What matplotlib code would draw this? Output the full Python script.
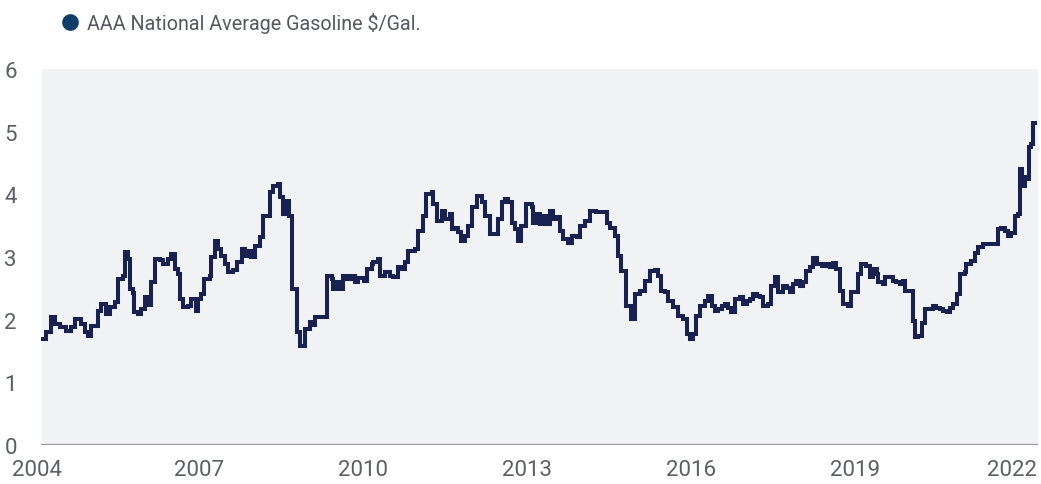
import matplotlib
matplotlib.use("Agg")
import matplotlib.pyplot as plt
from matplotlib.lines import Line2D
from matplotlib.transforms import ScaledTranslation

# ---- data (decimal year, $/gal) ----
dates = [
    2004.15, 2004.21, 2004.30, 2004.36, 2004.45, 2004.57, 2004.66, 2004.73, 2004.85, 2004.91,
    2004.97, 2005.03, 2005.15, 2005.21, 2005.30, 2005.37, 2005.46, 2005.52, 2005.61, 2005.64,
    2005.70, 2005.73, 2005.79, 2005.82, 2005.88, 2005.94, 2006.01, 2006.07, 2006.13, 2006.19,
    2006.28, 2006.34, 2006.43, 2006.49, 2006.56, 2006.62, 2006.65, 2006.71, 2006.80, 2006.86,
    2006.95, 2006.98, 2007.04, 2007.10, 2007.20, 2007.22, 2007.29, 2007.35, 2007.41, 2007.48,
    2007.54, 2007.63, 2007.69, 2007.78, 2007.84, 2007.90, 2007.96, 2008.02, 2008.12, 2008.18,
    2008.30, 2008.36, 2008.45, 2008.48, 2008.54, 2008.60, 2008.65, 2008.70, 2008.79, 2008.85,
    2008.94, 2009.03, 2009.09, 2009.12, 2009.34, 2009.43, 2009.46, 2009.52, 2009.58, 2009.64,
    2009.70, 2009.79, 2009.85, 2009.91, 2010.01, 2010.07, 2010.16, 2010.19, 2010.28, 2010.31,
    2010.40, 2010.49, 2010.55, 2010.65, 2010.71, 2010.77, 2010.83, 2010.95, 2011.01, 2011.10,
    2011.16, 2011.26, 2011.29, 2011.35, 2011.44, 2011.50, 2011.59, 2011.62, 2011.68, 2011.74,
    2011.80, 2011.87, 2011.93, 2011.99, 2012.08, 2012.17, 2012.23, 2012.32, 2012.47, 2012.54,
    2012.60, 2012.66, 2012.72, 2012.78, 2012.84, 2012.90, 2012.99, 2013.09, 2013.11, 2013.18,
    2013.24, 2013.30, 2013.36, 2013.42, 2013.48, 2013.54, 2013.60, 2013.66, 2013.75, 2013.82,
    2013.91, 2013.97, 2014.06, 2014.15, 2014.27, 2014.46, 2014.52, 2014.61, 2014.67, 2014.73,
    2014.82, 2014.91, 2014.97, 2015.07, 2015.16, 2015.25, 2015.34, 2015.40, 2015.46, 2015.52,
    2015.58, 2015.68, 2015.77, 2015.86, 2015.92, 2015.98, 2016.04, 2016.10, 2016.16, 2016.26,
    2016.32, 2016.38, 2016.44, 2016.50, 2016.56, 2016.62, 2016.68, 2016.74, 2016.80, 2016.90,
    2016.96, 2017.02, 2017.08, 2017.14, 2017.20, 2017.26, 2017.32, 2017.41, 2017.47, 2017.54,
    2017.60, 2017.69, 2017.75, 2017.81, 2017.87, 2017.93, 2017.99, 2018.05, 2018.11, 2018.18,
    2018.24, 2018.30, 2018.39, 2018.48, 2018.54, 2018.60, 2018.66, 2018.72, 2018.78, 2018.87,
    2018.93, 2019.05, 2019.12, 2019.21, 2019.24, 2019.27, 2019.33, 2019.40, 2019.42, 2019.52,
    2019.55, 2019.64, 2019.70, 2019.76, 2019.82, 2019.88, 2019.91, 2020.07, 2020.10, 2020.16,
    2020.22, 2020.28, 2020.43, 2020.49, 2020.55, 2020.61, 2020.68, 2020.74, 2020.80, 2020.86,
    2020.92, 2021.01, 2021.04, 2021.13, 2021.19, 2021.25, 2021.34, 2021.62, 2021.68, 2021.74,
    2021.80, 2021.86, 2021.93, 2021.99, 2022.02, 2022.05, 2022.11, 2022.16, 2022.19, 2022.23,
    2022.26, 2022.29,
]
prices = [
    1.69, 1.80, 2.04, 1.93, 1.88, 1.82, 1.88, 2.01, 1.93, 1.80,
    1.74, 1.90, 2.14, 2.25, 2.09, 2.20, 2.28, 2.65, 2.70, 3.08,
    2.97, 2.49, 2.43, 2.12, 2.09, 2.17, 2.36, 2.23, 2.60, 2.97,
    2.95, 2.89, 2.97, 3.05, 2.81, 2.73, 2.33, 2.20, 2.22, 2.33,
    2.14, 2.33, 2.41, 2.65, 2.70, 3.00, 3.26, 3.12, 3.02, 2.89,
    2.76, 2.79, 2.92, 3.12, 3.02, 3.10, 3.00, 3.18, 3.32, 3.66,
    4.03, 4.14, 4.16, 3.96, 3.69, 3.89, 3.66, 2.49, 1.80, 1.58,
    1.85, 1.96, 1.91, 2.04, 2.70, 2.65, 2.49, 2.60, 2.49, 2.70,
    2.65, 2.70, 2.60, 2.67, 2.62, 2.81, 2.89, 2.92, 2.97, 2.70,
    2.76, 2.70, 2.68, 2.84, 2.81, 2.92, 3.10, 3.12, 3.41, 3.66,
    4.00, 4.03, 3.85, 3.58, 3.74, 3.60, 3.69, 3.44, 3.47, 3.40,
    3.26, 3.34, 3.50, 3.79, 3.98, 3.87, 3.66, 3.37, 3.60, 3.87,
    3.92, 3.87, 3.55, 3.44, 3.26, 3.50, 3.85, 3.79, 3.55, 3.69,
    3.53, 3.66, 3.53, 3.74, 3.61, 3.64, 3.42, 3.29, 3.23, 3.34,
    3.32, 3.50, 3.58, 3.74, 3.72, 3.55, 3.47, 3.34, 3.02, 2.78,
    2.22, 2.01, 2.41, 2.46, 2.62, 2.78, 2.80, 2.70, 2.46, 2.44,
    2.30, 2.20, 2.06, 2.01, 1.77, 1.69, 1.77, 2.06, 2.22, 2.30,
    2.38, 2.22, 2.14, 2.17, 2.22, 2.25, 2.19, 2.12, 2.33, 2.36,
    2.25, 2.30, 2.33, 2.41, 2.38, 2.36, 2.22, 2.25, 2.54, 2.68,
    2.44, 2.54, 2.51, 2.44, 2.57, 2.62, 2.54, 2.60, 2.78, 2.84,
    2.99, 2.89, 2.86, 2.89, 2.84, 2.91, 2.81, 2.46, 2.25, 2.22,
    2.44, 2.73, 2.89, 2.86, 2.86, 2.68, 2.81, 2.73, 2.60, 2.57,
    2.68, 2.68, 2.62, 2.60, 2.57, 2.62, 2.46, 1.98, 1.72, 1.74,
    1.95, 2.17, 2.22, 2.19, 2.17, 2.14, 2.12, 2.19, 2.25, 2.41,
    2.73, 2.76, 2.89, 2.94, 3.07, 3.16, 3.21, 3.45, 3.47, 3.42,
    3.34, 3.39, 3.66, 3.69, 4.40, 4.14, 4.27, 4.25, 4.75, 4.80,
    5.14, 5.14,
]
series_label = "AAA National Average Gasoline $/Gal."
x_ticks = [2004, 2007, 2010, 2013, 2016, 2019, 2022]
x_ticklabels = ["2004", "2007", "2010", "2013", "2016", "2019", "2022"]
y_ticks = [0, 1, 2, 3, 4, 5, 6]

# ---- styling ----
LINE_COLOR = "#18214f"
MARKER_COLOR = "#0f3d6b"
BG_COLOR = "#f1f2f4"
TICK_COLOR = "#5c5f66"
TEXT_COLOR = "#55585e"
FONT = ["Roboto", "DejaVu Sans"]

W, H = 1041, 485
fig = plt.figure(figsize=(W / 100, H / 100), dpi=100)
ax_left, ax_right, ax_top, ax_bottom = 35, 1038, 70, 446
ax = fig.add_axes([ax_left / W, (H - ax_bottom) / H,
                   (ax_right - ax_left) / W, (ax_bottom - ax_top) / H])

x_min, x_max = 2004.0, 2022.35
shade_start = 2004.13
ax.set_xlim(x_min, x_max)
ax.set_ylim(0, 6)
ax.set_facecolor("white")
ax.axvspan(shade_start, x_max, color=BG_COLOR, zorder=0, lw=0)
frac = (shade_start - x_min) / (x_max - x_min)
ax.axhline(0, xmin=frac, xmax=1, color="#9a9a9a", lw=1.6, zorder=1)

ax.step(dates, prices, where="post", color=LINE_COLOR, lw=2.9,
        solid_joinstyle="miter", zorder=3)

for s in ax.spines.values():
    s.set_visible(False)
ax.set_xticks(x_ticks)
ax.set_xticklabels(x_ticklabels)
ax.set_yticks(y_ticks)
ax.tick_params(axis="both", length=0, labelsize=16, labelcolor=TICK_COLOR)
ax.tick_params(axis="x", pad=10)
ax.tick_params(axis="y", pad=13)
for lab in ax.get_xticklabels() + ax.get_yticklabels():
    lab.set_fontfamily(FONT)
ax.grid(False)

# keep the edge labels inside the figure, as in the reference
xlabels = ax.get_xticklabels()
xlabels[-1].set_transform(xlabels[-1].get_transform()
                          + ScaledTranslation(-7 / 100, 0, fig.dpi_scale_trans))
xlabels[0].set_transform(xlabels[0].get_transform()
                         + ScaledTranslation(2 / 100, 0, fig.dpi_scale_trans))

# legend-like header
handle = Line2D([], [], marker="o", linestyle="none", markersize=11,
                markerfacecolor=MARKER_COLOR, markeredgecolor=MARKER_COLOR)
leg = fig.legend([handle], [series_label], loc="center left",
                 bbox_to_anchor=(40 / W, 1 - 23 / H), frameon=False,
                 handletextpad=0.3, handlelength=1.2,
                 prop={"family": FONT, "size": 14.2})
for t in leg.get_texts():
    t.set_color(TEXT_COLOR)

fig.savefig("out.png", dpi=100)
